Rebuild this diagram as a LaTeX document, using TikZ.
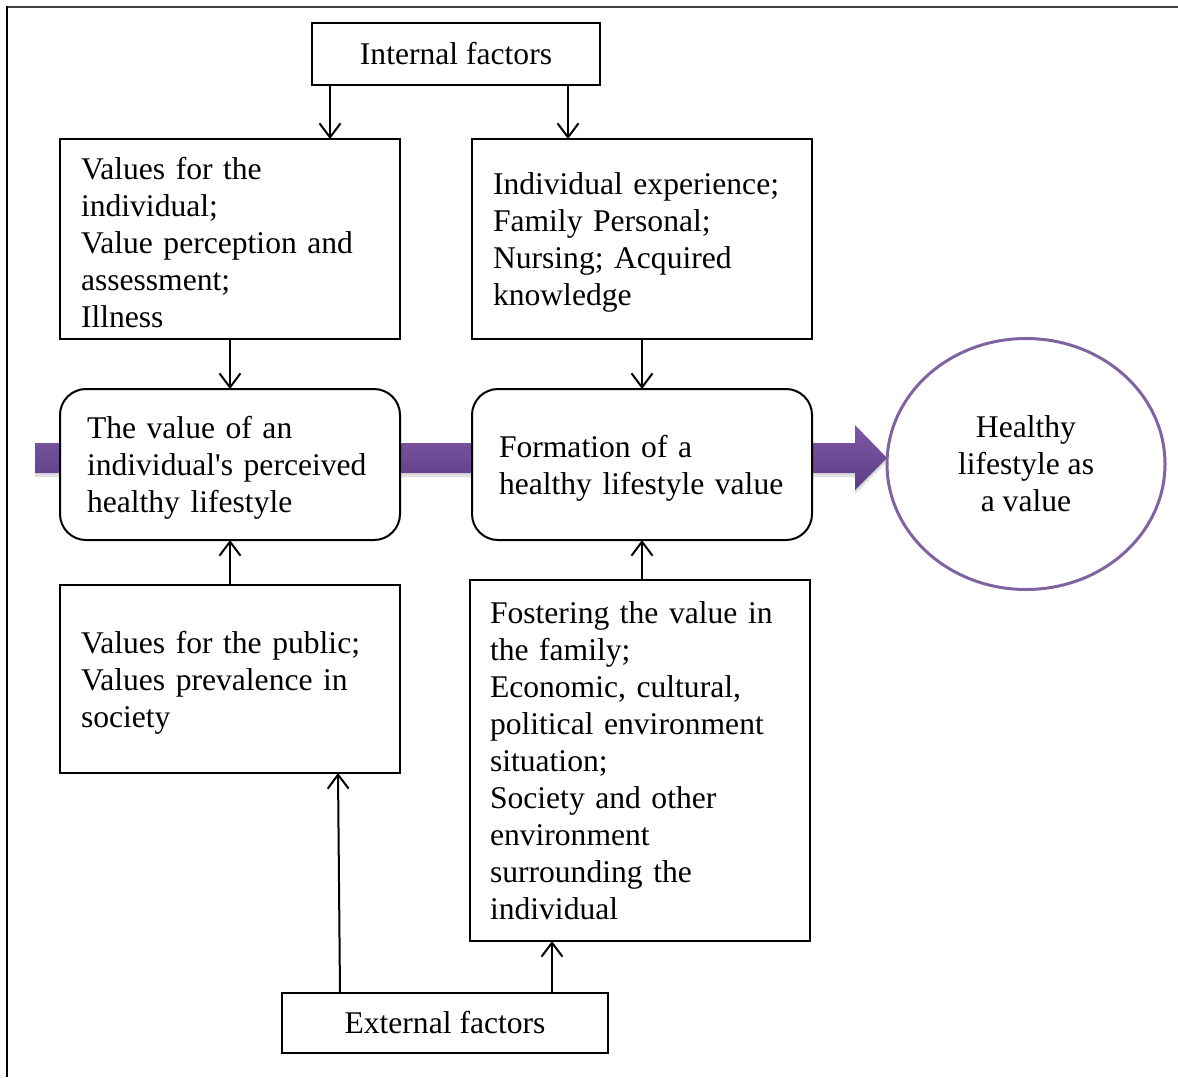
\documentclass[tikz,border=0pt]{standalone}
\usepackage{fontspec}
\setmainfont{Liberation Serif}
\usetikzlibrary{arrows.meta,shadows,shapes.geometric}
\definecolor{purpA}{HTML}{7F58A6}
\definecolor{purpB}{HTML}{5C3E84}
\definecolor{circ}{HTML}{8064A2}
\newcommand\tstrut{\rule{0pt}{29pt}}
\begin{document}
\begin{tikzpicture}[x=1pt,y=-1pt,
  every node/.style={font=\fontsize{31.6}{37}\selectfont, outer sep=0pt},
  sqbox/.style={draw, line width=2pt, fill=white, rectangle, inner ysep=0pt, inner xsep=21pt, align=left},
  rbox/.style={sqbox, rounded corners=26pt, inner xsep=27pt},
  lbl/.style={draw, line width=2pt, fill=white, rectangle, inner sep=0pt, align=center},
  arr/.style={line width=2pt, -{Straight Barb[length=14pt,width=21pt,line width=2pt]}},
  bigarrow/.style={top color=purpA, bottom color=purpB, draw=none,
    drop shadow={opacity=0.25, shadow xshift=0pt, shadow yshift=-4pt}}
]
\useasboundingbox (0,0) rectangle (1178,1077);
% frame
\draw[line width=1.5pt, black!75] (7,7) -- (1178,7);
\draw[line width=1.5pt, black] (7,6.3) -- (7,1077);
% purple arrow
\path[bigarrow] (35,443) -- (855,443) -- (855,425) -- (887,458) -- (855,490) -- (855,473) -- (35,473) -- cycle;
% nodes
\node[lbl, minimum width=288pt, minimum height=62pt] (int) at (456,54) {Internal factors};
\node[lbl, minimum width=326pt, minimum height=60pt] (ext) at (445,1023) {External factors};
\node[sqbox, text width=298pt, minimum height=200pt] (a) at (230,239)
  {\tstrut Values for the\\individual;\\Value perception and\\assessment;\\Illness};
\node[sqbox, text width=298pt, minimum height=200pt] (b) at (642,239)
  {\tstrut Individual experience;\\Family Personal;\\Nursing; Acquired\\knowledge};
\node[rbox, text width=286pt, minimum height=151pt] (c) at (230,464.5)
  {\tstrut The value of an\\individual\textquotesingle s perceived\\healthy lifestyle};
\node[rbox, text width=286pt, minimum height=151pt] (d) at (642,464.5)
  {\tstrut Formation of a\\healthy lifestyle value};
\node[sqbox, text width=298pt, minimum height=188pt] (e) at (230,679)
  {\tstrut Values for the public;\\Values prevalence in\\society};
\node[sqbox, inner xsep=20pt, text width=300pt, minimum height=361pt] (f) at (640,760.5)
  {Fostering the value in\\the family;\\Economic, cultural,\\political environment\\situation;\\Society and other\\environment\\surrounding the\\individual};
\node[ellipse, draw=circ, line width=3pt, fill=white, minimum width=278pt, minimum height=251pt, inner sep=0pt, align=center] (g) at (1026,464)
  {Healthy\\lifestyle as\\a value};
% connectors
\draw[arr] ([xshift=18pt]int.south west) -- ([xshift=18pt]int.south west |- a.north);
\draw[arr] ([xshift=256pt]int.south west) -- ([xshift=256pt]int.south west |- b.north);
\draw[arr] (a.south) -- (c.north);
\draw[arr] (b.south) -- (d.north);
\draw[arr] (e.north) -- (c.south);
\draw[arr] (d.south |- f.north) -- (d.south);
\draw[arr] ([xshift=58pt]ext.north west) -- ([xshift=108pt]e.south);
\draw[arr] ([xshift=270pt]ext.north west) -- ([xshift=270pt]ext.north west |- f.south);
\end{tikzpicture}
\end{document}
